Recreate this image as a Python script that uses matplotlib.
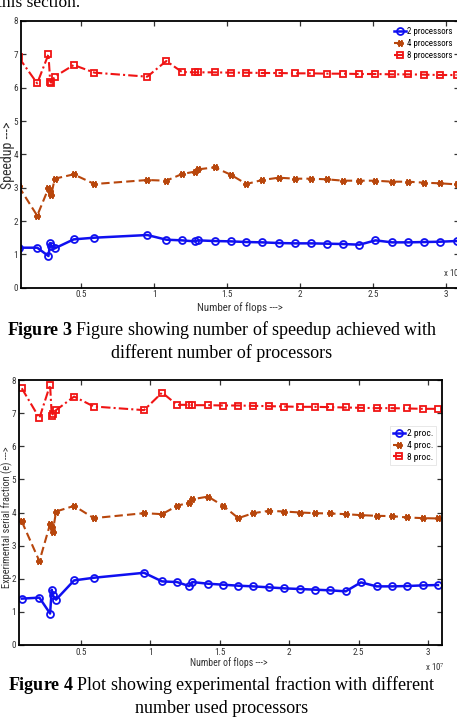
import matplotlib
matplotlib.use("Agg")
import matplotlib.pyplot as plt
from matplotlib import font_manager

W, H = 457, 721

# ---------------- data ----------------
flops = [0.073, 0.200, 0.277, 0.289, 0.296, 0.320, 0.450, 0.592, 0.954, 1.084,
         1.192, 1.278, 1.302, 1.415, 1.525, 1.633, 1.741, 1.854, 1.965, 2.078,
         2.186, 2.296, 2.407, 2.517, 2.630, 2.741, 2.851, 2.962, 3.072]

speedup_2 = [1.20, 1.20, 0.95, 1.34, 1.26, 1.18, 1.45, 1.50, 1.58, 1.44,
             1.42, 1.39, 1.42, 1.40, 1.39, 1.37, 1.36, 1.34, 1.33, 1.33,
             1.32, 1.31, 1.29, 1.42, 1.36, 1.36, 1.37, 1.38, 1.40]
speedup_4 = [3.04, 2.16, 2.98, 2.90, 2.78, 3.27, 3.40, 3.11, 3.23, 3.21,
             3.41, 3.48, 3.55, 3.61, 3.39, 3.11, 3.23, 3.30, 3.27, 3.27,
             3.25, 3.21, 3.21, 3.21, 3.18, 3.18, 3.15, 3.13, 3.10]
speedup_8 = [6.91, 6.13, 7.00, 6.18, 6.15, 6.33, 6.68, 6.45, 6.33, 6.80,
             6.47, 6.46, 6.46, 6.46, 6.45, 6.45, 6.44, 6.44, 6.43, 6.43,
             6.42, 6.42, 6.41, 6.41, 6.40, 6.40, 6.39, 6.38, 6.38]

frac_2 = [1.40, 1.43, 0.95, 1.67, 1.50, 1.37, 1.95, 2.03, 2.18, 1.92,
          1.90, 1.78, 1.90, 1.85, 1.82, 1.79, 1.77, 1.74, 1.71, 1.69,
          1.67, 1.65, 1.62, 1.89, 1.77, 1.77, 1.78, 1.80, 1.81]
frac_4 = [3.73, 2.53, 3.65, 3.57, 3.40, 4.03, 4.20, 3.83, 3.98, 3.95,
          4.20, 4.30, 4.40, 4.48, 4.20, 3.83, 3.98, 4.05, 4.03, 4.00,
          3.98, 3.97, 3.95, 3.92, 3.90, 3.89, 3.85, 3.83, 3.82]
frac_8 = [7.75, 6.85, 7.85, 6.92, 6.97, 7.09, 7.50, 7.20, 7.09, 7.62,
          7.25, 7.25, 7.24, 7.24, 7.23, 7.23, 7.22, 7.21, 7.20, 7.19,
          7.19, 7.18, 7.17, 7.16, 7.15, 7.15, 7.14, 7.13, 7.13]

xticks = [0.5, 1, 1.5, 2, 2.5, 3]
xticklabels = ["0.5", "1", "1.5", "2", "2.5", "3"]
yticks = [0, 1, 2, 3, 4, 5, 6, 7, 8]

labels_top = ["2 processors", "4 processors", "8 processors"]
labels_bot = ["2 proc.", "4 proc.", "8 proc."]

# ---------------- style ----------------
names = {f.name for f in font_manager.fontManager.ttflist}
SANS = [n for n in ["Liberation Sans Narrow", "DejaVu Sans Condensed", "Roboto Condensed"]
        if n in names] + ["DejaVu Sans"]
SERIF = ["Liberation Serif", "DejaVu Serif"]

plt.rcParams["mathtext.fontset"] = "custom"
plt.rcParams["mathtext.rm"] = "Liberation Serif"
plt.rcParams["mathtext.bf"] = "Liberation Serif:bold"
plt.rcParams["mathtext.it"] = "Liberation Serif:italic"

C_BLUE = "#1010F0"
C_ORANGE = "#B8460C"
C_RED = "#F01414"
ASTER = (6, 2, 90)

fig = plt.figure(figsize=(W / 100, H / 100), dpi=100)


def fx(x):
    return x / W


def fy(y):
    return 1 - y / H


def make_axes(left, right, top, bottom):
    return fig.add_axes([fx(left), fy(bottom), (right - left) / W, (bottom - top) / H])


def style_axes(ax, xlim):
    ax.set_xlim(*xlim)
    ax.set_ylim(0, 8)
    ax.set_xticks(xticks)
    ax.set_xticklabels(xticklabels)
    ax.set_yticks(yticks)
    ax.tick_params(direction="in", length=3.5, width=0.9, labelsize=6.6,
                   top=True, right=True, pad=2, colors="#333333")
    for lab in ax.get_xticklabels() + ax.get_yticklabels():
        lab.set_family(SANS)
    for s in ax.spines.values():
        s.set_linewidth(1.3)
        s.set_color("black")


def draw_series(ax, y2, y4, y8, labels):
    l1, = ax.plot(flops, y2, color=C_BLUE, lw=1.8, ls="-", marker="o", ms=5,
                  mfc="none", mew=1.3, label=labels[0])
    l2, = ax.plot(flops, y4, color=C_ORANGE, lw=1.5, ls=(0, (4, 2)), marker=ASTER, ms=5,
                  mew=1.3, label=labels[1])
    l3, = ax.plot(flops, y8, color=C_RED, lw=1.5, ls=(0, (4.5, 1.5, 1, 1.5)), marker="s", ms=4.5,
                  mfc="none", mew=1.3, label=labels[2])
    return [l1, l2, l3]


# ---------------- top chart ----------------
ax1 = make_axes(21, 459, 21, 287.7)
h1 = draw_series(ax1, speedup_2, speedup_4, speedup_8, labels_top)
style_axes(ax1, (0.089, 3.089))
leg1 = fig.legend(handles=h1, loc="upper left", bbox_to_anchor=(fx(388), fy(21)),
                  frameon=False, prop={"family": SANS, "size": 6.4},
                  handlelength=1.3, handletextpad=0.15, labelspacing=0.35, borderpad=0.2)
fig.text(fx(8), fy(155), "Speedup --->", rotation=90, ha="center", va="center",
         family=SANS, fontsize=10, color="#333333")
fig.text(fx(240), fy(308), "Number of flops --->", ha="center", va="center",
         family=SANS, fontsize=7.8, color="#333333")
fig.text(fx(443), fy(272), r"x 10$^{7}$", ha="left", va="center",
         family=SANS, fontsize=6.5, color="#333333")

# ---------------- bottom chart ----------------
ax2 = make_axes(19, 442, 380, 645)
h2 = draw_series(ax2, frac_2, frac_4, frac_8, labels_bot)
style_axes(ax2, (0.053, 3.101))
leg2 = fig.legend(handles=h2, loc="upper left", bbox_to_anchor=(fx(385), fy(421)),
                  frameon=True, prop={"family": SANS, "size": 6.8},
                  handlelength=1.3, handletextpad=0.15, labelspacing=0.3, borderpad=0.35,
                  fancybox=False)
leg2.get_frame().set_edgecolor("#DDDDDD")
leg2.get_frame().set_linewidth(0.6)
fig.text(fx(7), fy(517), "Experimental serial fraction (e) --->", rotation=90,
         ha="center", va="center", family=SANS, fontsize=7.5, color="#333333")
fig.text(fx(229), fy(663), "Number of flops --->", ha="center", va="center",
         family=SANS, fontsize=7.1, color="#333333")
fig.text(fx(425), fy(667), r"x 10$^{7}$", ha="left", va="center",
         family=SANS, fontsize=6.5, color="#333333")

# ---------------- page text ----------------
fig.text(fx(-3), fy(7), "this section.", ha="left", va="baseline",
         family=SERIF, fontsize=12.5, color="black")

fig.text(fx(222), fy(335), r"$\mathbf{Figure\ 3}$ Figure showing number of speedup achieved with",
         ha="center", va="baseline", family=SERIF, fontsize=13, color="black")
fig.text(fx(222), fy(358), "different number of processors",
         ha="center", va="baseline", family=SERIF, fontsize=13, color="black")
fig.text(fx(222), fy(690), r"$\mathbf{Figure\ 4}$ Plot showing experimental fraction with different",
         ha="center", va="baseline", family=SERIF, fontsize=13, color="black")
fig.text(fx(222), fy(713), "number used processors",
         ha="center", va="baseline", family=SERIF, fontsize=13, color="black")

fig.savefig("out.png", dpi=100)
